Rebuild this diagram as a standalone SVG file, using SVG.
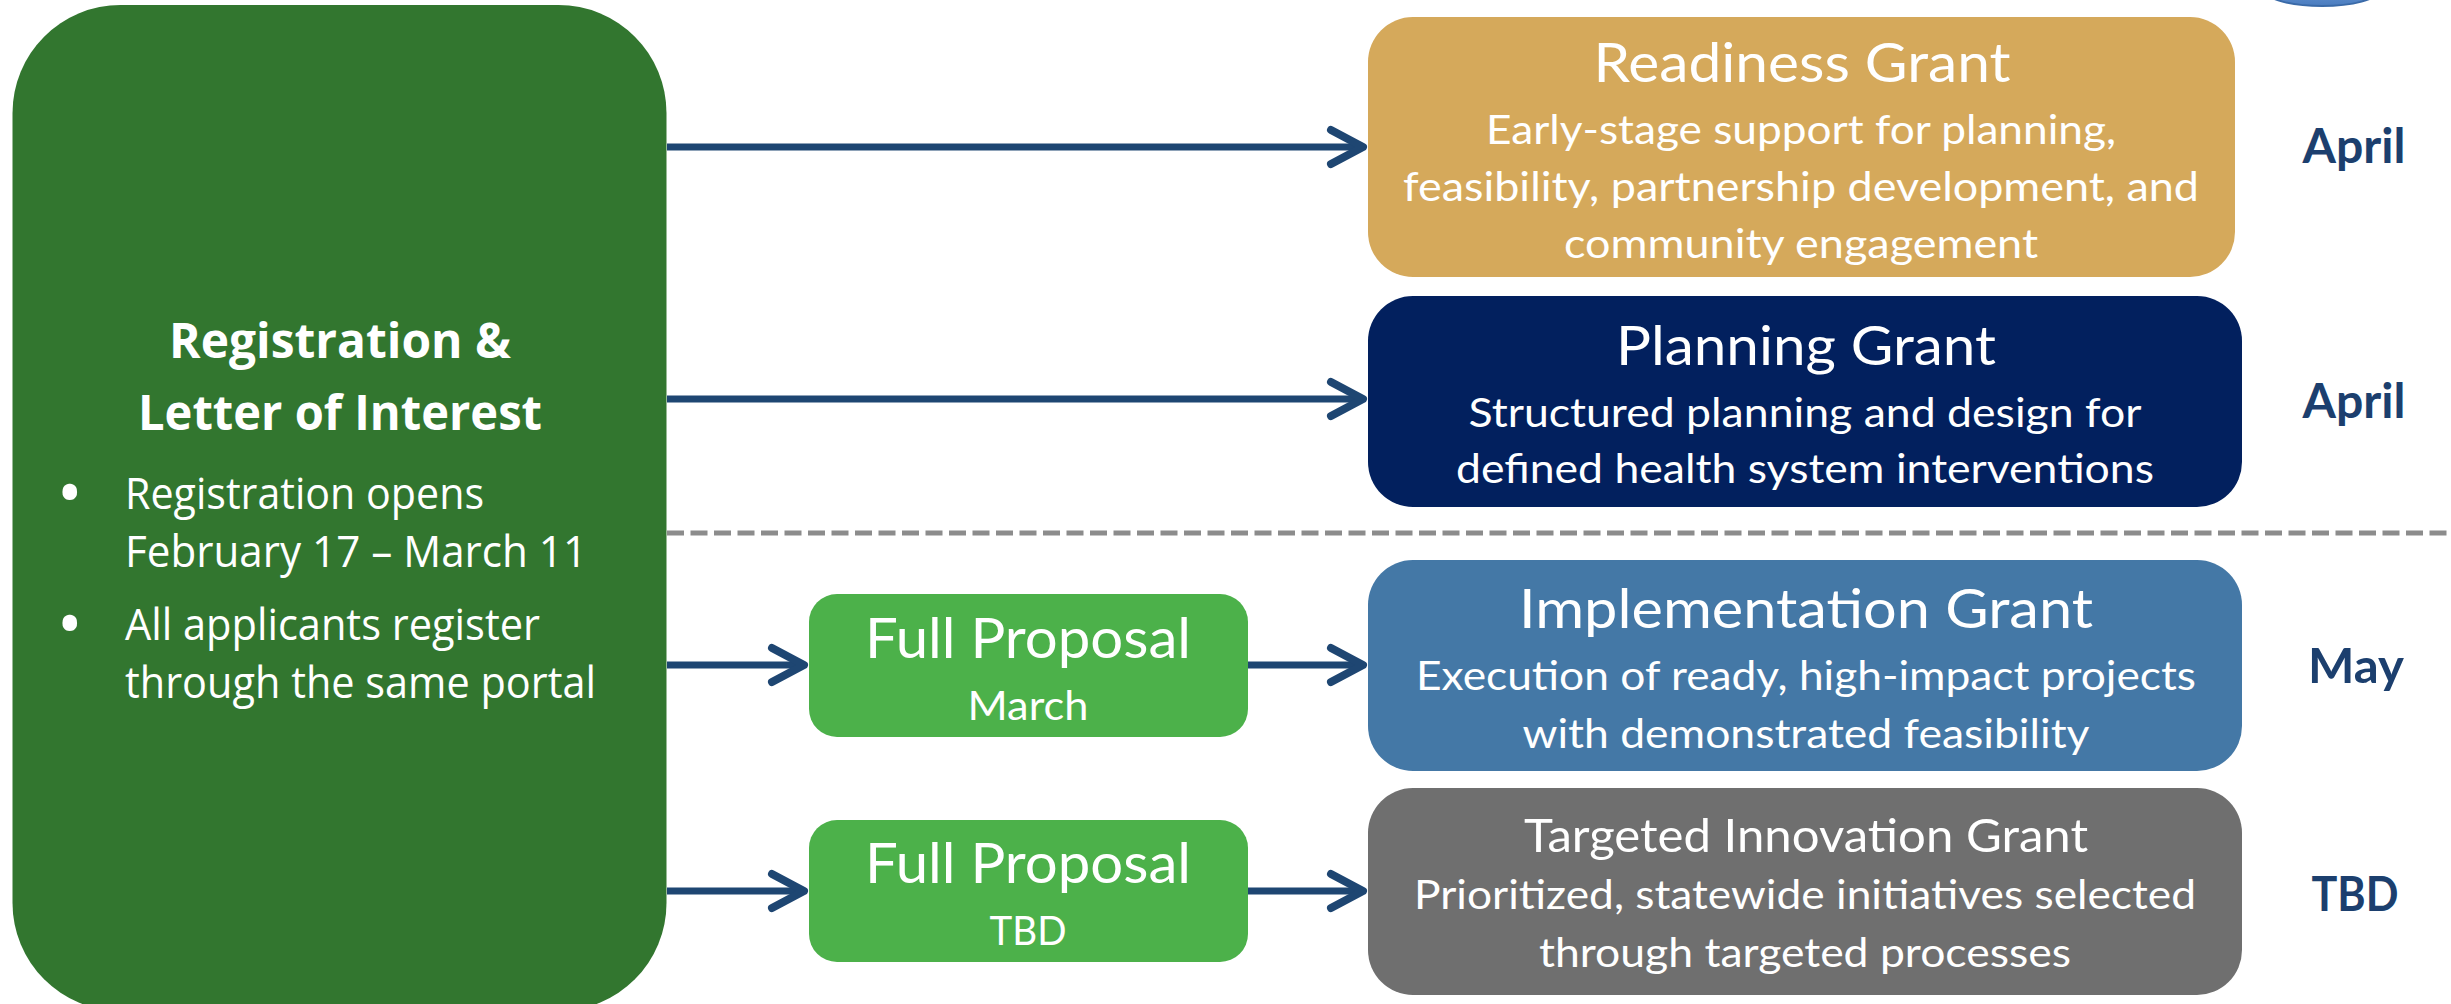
<svg xmlns="http://www.w3.org/2000/svg" width="2451" height="1004" viewBox="0 0 2451 1004">
<style>
.t{fill:#fff;font-family:Lato,"Liberation Sans",sans-serif;text-anchor:middle}
.ti{font-size:54px}
.d{font-size:40px}
.fp{font-size:57px}
.sm{font-size:40px}
.m{fill:#1C3F6E;font-family:Lato,"Liberation Sans",sans-serif;font-weight:bold;font-size:47px;text-anchor:middle}
.os{fill:#fff;font-family:"Open Sans","Liberation Sans",sans-serif}
.h{font-weight:bold;font-size:48px;text-anchor:middle}
.b{font-size:44px}
.bu{font-size:52px;font-weight:bold}
.c{fill:none;stroke:#1E4672;stroke-width:7}
</style>
<defs>
<marker id="ah" markerUnits="userSpaceOnUse" viewBox="-45 -30 55 60" markerWidth="55" markerHeight="60" refX="0" refY="0" orient="auto" overflow="visible">
<path d="M -32 -17 L 0 0 L -32 17" fill="none" stroke="#1E4672" stroke-width="8" stroke-linecap="round" stroke-linejoin="round"/>
</marker>
<linearGradient id="bl" x1="0" y1="0" x2="0" y2="1">
<stop offset="0" stop-color="#7aa6dc"/>
<stop offset="1" stop-color="#4a7cbf"/>
</linearGradient>
</defs>
<rect width="2451" height="1004" fill="#fff"/>
<ellipse cx="2322" cy="-9" rx="56" ry="15" fill="url(#bl)" stroke="#3a6aa8" stroke-width="2"/>
<line x1="667" y1="533" x2="2451" y2="533" stroke="#8C8C8C" stroke-width="5" stroke-dasharray="17 6.5"/>
<g id="connectors">
<path class="c" d="M667 147 H1363" marker-end="url(#ah)"/>
<path class="c" d="M667 399 H1363" marker-end="url(#ah)"/>
<path class="c" d="M667 665 H804" marker-end="url(#ah)"/>
<path class="c" d="M1248 665 H1363" marker-end="url(#ah)"/>
<path class="c" d="M667 891 H804" marker-end="url(#ah)"/>
<path class="c" d="M1248 891 H1363" marker-end="url(#ah)"/>
</g>
<g id="registration">
<rect x="12.5" y="5" width="654" height="1006" rx="108" fill="#32762F"/>
<text class="os h" x="340" y="358" textLength="342" lengthAdjust="spacingAndGlyphs">Registration &amp;</text>
<text class="os h" x="340" y="430" textLength="404" lengthAdjust="spacingAndGlyphs">Letter of Interest</text>
<text class="os bu" x="60" y="511">•</text>
<text class="os b" x="125" y="509" textLength="359" lengthAdjust="spacingAndGlyphs">Registration opens</text>
<text class="os b" x="125" y="567" textLength="462" lengthAdjust="spacingAndGlyphs">February 17 – March 11</text>
<text class="os bu" x="60" y="642">•</text>
<text class="os b" x="125" y="640" textLength="415" lengthAdjust="spacingAndGlyphs">All applicants register</text>
<text class="os b" x="125" y="698" textLength="471" lengthAdjust="spacingAndGlyphs">through the same portal</text>
</g>
<g id="readiness">
<rect x="1368" y="17" width="867" height="260" rx="45" fill="#D5A95B"/>
<text class="t ti" x="1802" y="82" textLength="417" lengthAdjust="spacingAndGlyphs">Readiness Grant</text>
<text class="t d" x="1801" y="144" textLength="630" lengthAdjust="spacingAndGlyphs">Early-stage support for planning,</text>
<text class="t d" x="1801" y="201" textLength="796" lengthAdjust="spacingAndGlyphs">feasibility, partnership development, and</text>
<text class="t d" x="1801" y="258" textLength="474" lengthAdjust="spacingAndGlyphs">community engagement</text>
</g>
<g id="planning">
<rect x="1368" y="296" width="874" height="211" rx="45" fill="#02205E"/>
<text class="t ti" x="1806" y="365" textLength="380" lengthAdjust="spacingAndGlyphs">Planning Grant</text>
<text class="t d" x="1805" y="427" textLength="673" lengthAdjust="spacingAndGlyphs">Structured planning and design for</text>
<text class="t d" x="1805" y="483" textLength="698" lengthAdjust="spacingAndGlyphs">defined health system interventions</text>
</g>
<g id="implementation">
<rect x="1368" y="560" width="874" height="211" rx="45" fill="#4478A6"/>
<text class="t ti" x="1806" y="628" textLength="574" lengthAdjust="spacingAndGlyphs">Implementation Grant</text>
<text class="t d" x="1806" y="690" textLength="780" lengthAdjust="spacingAndGlyphs">Execution of ready, high-impact projects</text>
<text class="t d" x="1806" y="748" textLength="567" lengthAdjust="spacingAndGlyphs">with demonstrated feasibility</text>
</g>
<g id="targeted">
<rect x="1368" y="788" width="874" height="207" rx="45" fill="#6F6F6F"/>
<text class="t" style="font-size:47px" x="1806" y="852" textLength="564" lengthAdjust="spacingAndGlyphs">Targeted Innovation Grant</text>
<text class="t d" x="1805" y="909" textLength="782" lengthAdjust="spacingAndGlyphs">Prioritized, statewide initiatives selected</text>
<text class="t d" x="1805" y="967" textLength="532" lengthAdjust="spacingAndGlyphs">through targeted processes</text>
</g>
<g id="full-proposal-march">
<rect x="809" y="594" width="439" height="143" rx="28" fill="#4CB14A"/>
<text class="t fp" x="1028" y="658" textLength="326" lengthAdjust="spacingAndGlyphs">Full Proposal</text>
<text class="t sm" x="1028" y="720" textLength="121" lengthAdjust="spacingAndGlyphs">March</text>
</g>
<g id="full-proposal-tbd">
<rect x="809" y="820" width="439" height="142" rx="28" fill="#4CB14A"/>
<text class="t fp" x="1028" y="883" textLength="326" lengthAdjust="spacingAndGlyphs">Full Proposal</text>
<text class="t sm" x="1028" y="945" textLength="77" lengthAdjust="spacingAndGlyphs">TBD</text>
</g>
<g id="dates">
<text class="m" x="2354" y="163" textLength="103" lengthAdjust="spacingAndGlyphs">April</text>
<text class="m" x="2354" y="418" textLength="103" lengthAdjust="spacingAndGlyphs">April</text>
<text class="m" x="2356" y="683" textLength="96" lengthAdjust="spacingAndGlyphs">May</text>
<text class="m" x="2355" y="911" textLength="87" lengthAdjust="spacingAndGlyphs">TBD</text>
</g>
</svg>
